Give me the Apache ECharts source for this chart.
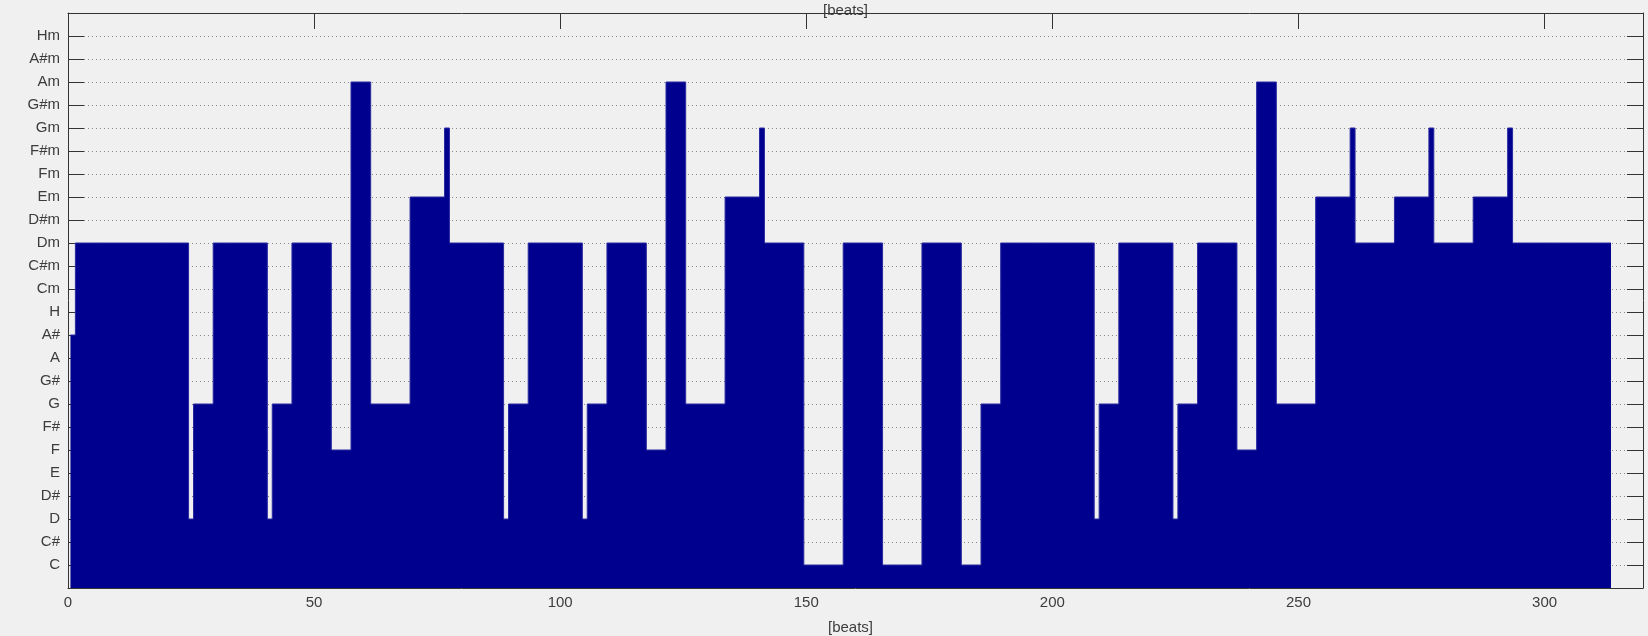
<!DOCTYPE html>
<html>
<head>
<meta charset="utf-8">
<title>Chord sequence</title>
<script src="https://cdn.jsdelivr.net/npm/echarts@6/dist/echarts.min.js"></script>
<style>
  html, body { margin: 0; padding: 0; background: #f0f0f0; }
  #chart { width: 1648px; height: 636px; }
</style>
</head>
<body>
<div id="chart"></div>
<script>
// Chord vocabulary, bottom to top of the y axis
const chordNames = ['C', 'C#', 'D', 'D#', 'E', 'F', 'F#', 'G', 'G#', 'A', 'A#', 'H',
                    'Cm', 'C#m', 'Dm', 'D#m', 'Em', 'Fm', 'F#m', 'Gm', 'G#m', 'Am', 'A#m', 'Hm'];

// Detected chord per run of beats (run order follows the song)
const runChords = ['A#', 'Dm', 'D', 'G', 'Dm', 'D', 'G', 'Dm', 'F', 'Am', 'G', 'Em', 'Gm',
                   'Dm', 'D', 'G', 'Dm', 'D', 'G', 'Dm', 'F', 'Am', 'G', 'Em', 'Gm',
                   'Dm', 'C', 'Dm', 'C', 'Dm', 'C', 'G', 'Dm', 'D', 'G', 'Dm', 'D', 'G',
                   'Dm', 'F', 'Am', 'G', 'Em', 'Gm', 'Dm', 'Em', 'Gm', 'Dm', 'Em', 'Gm', 'Dm'];
// Number of beats each run lasts
const runBeats = [1, 23, 1, 4, 11, 1, 4, 8, 4, 4, 8, 7, 1,
                  11, 1, 4, 11, 1, 4, 8, 4, 4, 8, 7, 1,
                  8, 8, 8, 8, 8, 4, 4, 19, 1, 4, 11, 1, 4,
                  8, 4, 4, 8, 7, 1, 8, 7, 1, 8, 7, 1, 20];

// Bottom x-axis tick labels
const beatTicks = [0, 50, 100, 150, 200, 250, 300];

// Expand runs into one chord index (1-based) per beat
const beatChord = [];
runChords.forEach((name, i) => {
  const idx = chordNames.indexOf(name) + 1;
  for (let k = 0; k < runBeats[i]; k++) beatChord.push(idx);
});

// Each beat occupies [beat - 0.5, beat + 0.5]; a step line closes the filled outline
const stepData = beatChord.map((v, i) => [i + 1 - 0.5, v]);
stepData.push([beatChord.length + 0.5, beatChord[beatChord.length - 1]]);

const FONT = 'Liberation Sans, Arial, sans-serif';
const TEXT = '#3c3c3c';
const AXIS = '#333333';

const chart = echarts.init(document.getElementById('chart'), null, { renderer: 'canvas' });

const xCommon = {
  type: 'value', min: 0, max: 320, interval: 50,
  axisLine: { show: true, onZero: false, lineStyle: { color: AXIS, width: 1 } },
  axisTick: { show: true, inside: true, length: 16, lineStyle: { color: AXIS } },
  splitLine: { show: false },
  name: '[beats]', nameLocation: 'middle'
};

const yCommon = {
  type: 'value', min: 0, max: 25, interval: 1,
  axisLine: { show: true, onZero: false, lineStyle: { color: AXIS, width: 1 } },
  axisTick: { show: true, inside: true, length: 16, lineStyle: { color: AXIS } }
};

chart.setOption({
  backgroundColor: '#f0f0f0',
  animation: false,
  grid: { left: 68, right: 5, top: 13, bottom: 48, containLabel: false, outerBoundsMode: 'none' },
  xAxis: [
    Object.assign({}, xCommon, {
      position: 'bottom',
      axisLabel: {
        show: true, margin: 7, color: TEXT, fontFamily: FONT, fontSize: 15,
        formatter: v => (beatTicks.indexOf(v) >= 0 ? String(v) : '')
      },
      nameGap: 32,
      nameTextStyle: { color: TEXT, fontFamily: FONT, fontSize: 15, padding: [0, 10, 0, 0] }
    }),
    Object.assign({}, xCommon, {
      position: 'top',
      axisLabel: { show: false },
      nameGap: -5,
      nameTextStyle: { color: TEXT, fontFamily: FONT, fontSize: 15, padding: [0, 20, 0, 0] }
    })
  ],
  yAxis: [
    Object.assign({}, yCommon, {
      position: 'left',
      axisLabel: {
        show: true, margin: 8, color: TEXT, fontFamily: FONT, fontSize: 15,
        formatter: v => (v >= 1 && v <= chordNames.length ? chordNames[v - 1] : '')
      },
      splitLine: {
        show: true,
        lineStyle: { color: '#8a8a8a', width: 1, type: [1, 3] }
      }
    }),
    Object.assign({}, yCommon, {
      position: 'right',
      axisLabel: { show: false },
      splitLine: { show: false }
    })
  ],
  series: [{
    type: 'line',
    xAxisIndex: 0,
    yAxisIndex: 0,
    data: stepData,
    step: 'end',
    showSymbol: false,
    symbol: 'none',
    sampling: null,
    lineStyle: { color: '#2a2aa0', width: 1 },
    areaStyle: { color: '#00008f', opacity: 1, origin: 'start' },
    silent: true
  }]
});
</script>
</body>
</html>
